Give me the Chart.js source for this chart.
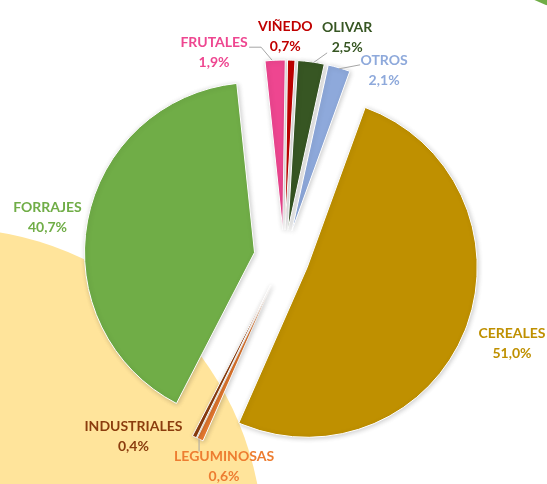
<!DOCTYPE html>
<html>
<head>
<meta charset="utf-8">
<script src="https://cdn.jsdelivr.net/npm/chart.js@4.4.0/dist/chart.umd.min.js"></script>
<style>
    html, body { margin: 0; padding: 0; background: #ffffff; }
    #wrap { width: 547px; height: 484px; position: relative; overflow: hidden; }
</style>
</head>
<body>
<div id="wrap"><canvas id="pieChart" width="547" height="484"></canvas></div>
<script>
const CATEGORIES = ['FRUTALES', 'VIÑEDO', 'OLIVAR', 'OTROS', 'CEREALES', 'LEGUMINOSAS', 'INDUSTRIALES', 'FORRAJES'];
const SHARES = [1.9, 0.7, 2.5, 2.1, 51.0, 0.6, 0.4, 40.7];

const SLICE_COLORS = ['#EE4690', '#C00000', '#375623', '#8EA9DB', '#BF9000', '#ED7D31', '#8B3D0E', '#70AD47'];
const LABEL_COLORS = ['#EE4690', '#C00000', '#375623', '#8EA9DB', '#BF9000', '#ED7D31', '#8B3D0E', '#70AD47'];

// pull-out of each slice (px) and label offset from the slice's outer mid point
const EXPLODE = [28, 28, 28, 28, 25, 30, 30, 30];
const LABEL_SHIFT = [[-61, -8], [-6, -24], [36, -24], [45, 3], [47, 13], [24, 27], [-61, 0], [-40, -3]];
// leader lines, points relative to the same outer mid point
const LEADERS = [
    [[-26, -13], [-14, -13], [-3, 0]],
    null,
    [[16, -9], [2, 1]],
    [[21, -3], [0, 1]],
    null,
    [[-1, -1], [-1, 12]],
    null,
    null
];

const LABEL_FONT = 'bold 14px Lato';
const LINE_GAP = 20;

function formatShare(value) {
    return `${value.toFixed(1).replace('.', ',')}%`;
}

function outerMidPoint(arc) {
    const mid = (arc.startAngle + arc.endAngle) / 2;
    return {
        x: arc.x + Math.cos(mid) * arc.outerRadius,
        y: arc.y + Math.sin(mid) * arc.outerRadius
    };
}

// light decorative shapes behind the pie
const backdropPlugin = {
    id: 'backdrop',
    beforeDraw(chart) {
        const ctx = chart.ctx;
        ctx.save();
        ctx.fillStyle = '#ffffff';
        ctx.fillRect(0, 0, chart.width, chart.height);
        ctx.fillStyle = '#FFE49B';
        ctx.beginPath();
        ctx.arc(-53, 544, 316, 0, Math.PI * 2);
        ctx.fill();
        ctx.fillStyle = '#70AD47';
        ctx.beginPath();
        ctx.arc(637, -228, 250, 0, Math.PI * 2);
        ctx.fill();
        ctx.restore();
    }
};

// move every slice out along its middle angle
const explodePlugin = {
    id: 'explode',
    afterDatasetUpdate(chart, args) {
        const meta = chart.getDatasetMeta(args.index);
        meta.data.forEach((arc, i) => {
            const mid = (arc.startAngle + arc.endAngle) / 2;
            arc.x += Math.cos(mid) * EXPLODE[i];
            arc.y += Math.sin(mid) * EXPLODE[i];
        });
    }
};

const shadowPlugin = {
    id: 'softShadow',
    beforeDatasetsDraw(chart) {
        const ctx = chart.ctx;
        ctx.save();
        ctx.shadowColor = 'rgba(0, 0, 0, 0.2)';
        ctx.shadowBlur = 5;
        ctx.shadowOffsetX = 1;
        ctx.shadowOffsetY = 1;
    },
    afterDatasetsDraw(chart) {
        chart.ctx.restore();
    }
};

const labelPlugin = {
    id: 'sliceLabels',
    afterDraw(chart) {
        const ctx = chart.ctx;
        const meta = chart.getDatasetMeta(0);
        ctx.save();
        ctx.font = LABEL_FONT;
        ctx.textAlign = 'center';
        ctx.textBaseline = 'middle';
        meta.data.forEach((arc, i) => {
            const anchor = outerMidPoint(arc);
            const lines = LEADERS[i];
            if (lines) {
                ctx.strokeStyle = '#A6A6A6';
                ctx.lineWidth = 1;
                ctx.beginPath();
                lines.forEach((p, k) => {
                    const px = anchor.x + p[0];
                    const py = anchor.y + p[1];
                    if (k === 0) ctx.moveTo(px, py); else ctx.lineTo(px, py);
                });
                ctx.stroke();
            }
            const cx = anchor.x + LABEL_SHIFT[i][0];
            const cy = anchor.y + LABEL_SHIFT[i][1];
            ctx.fillStyle = LABEL_COLORS[i];
            ctx.fillText(CATEGORIES[i], cx, cy - LINE_GAP / 2);
            ctx.fillText(formatShare(SHARES[i]), cx, cy + LINE_GAP / 2);
        });
        ctx.restore();
    }
};

const pieCtx = document.getElementById('pieChart').getContext('2d');
new Chart(pieCtx, {
    type: 'pie',
    data: {
        labels: CATEGORIES,
        datasets: [{
            data: SHARES,
            backgroundColor: SLICE_COLORS,
            borderColor: '#ffffff',
            borderWidth: 1
        }]
    },
    options: {
        responsive: false,
        animation: false,
        events: [],
        rotation: -6,
        radius: 170,
        layout: { padding: { left: 21, top: 32 } },
        plugins: {
            legend: { display: false },
            tooltip: { enabled: false }
        }
    },
    plugins: [backdropPlugin, explodePlugin, shadowPlugin, labelPlugin]
});
</script>
</body>
</html>
